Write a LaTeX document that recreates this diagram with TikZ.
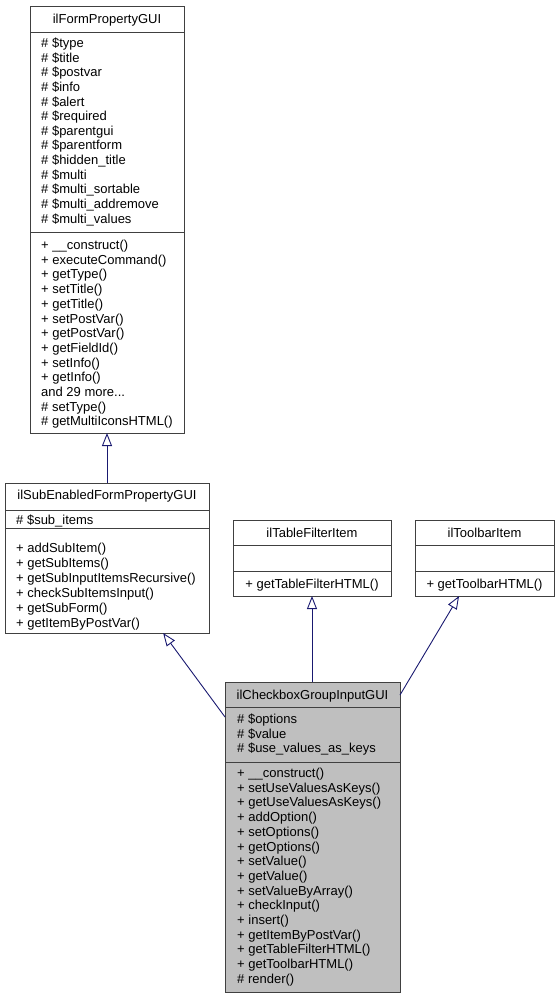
\documentclass[tikz,border=0pt]{standalone}
\usepackage{fontspec}
\setmainfont{Liberation Sans}
\usetikzlibrary{arrows.meta,calc}
\definecolor{boxc}{HTML}{404040}
\definecolor{edgec}{HTML}{191970}
\definecolor{hl}{HTML}{BFBFBF}
\tikzset{
  umlbox/.style={draw=boxc, line width=1pt, fill=white, rectangle, inner sep=0pt, outer sep=0pt, anchor=north west},
  sepline/.style={draw=boxc, line width=1pt},
  txt/.style={inner sep=0pt, font=\fontsize{13}{15}\selectfont, anchor=base west},
  ttl/.style={inner sep=0pt, font=\fontsize{13}{15}\selectfont, anchor=base},
  inherit/.style={draw=edgec, line width=0.9pt, -{Triangle[open, length=13pt, width=10pt]}},
}
\newcommand\threedots{...}
\newcommand\umlbx[6]{\node[umlbox, #6, minimum width={#4-#2}, minimum height={#5-#3}] (#1) at (#2,#3) {};}
\newcommand\umllines[5]{\foreach \t [count=\i] in {#5} {\node[txt] (#1\i) at (#2, {#3+#4*(\i-1)}) {\t};}}
\begin{document}
\begin{tikzpicture}[x=1pt, y=-1pt]
\useasboundingbox (0,0) rectangle (559,999);
% boxes
\umlbx{b1}{30}{6}{184}{433}{}
\umlbx{b2}{5}{483}{209}{633}{}
\umlbx{b3}{233}{520}{391}{596}{}
\umlbx{b4}{415}{520}{554}{596}{}
\umlbx{b5}{225}{682}{400}{992}{fill=hl}
% separators
\draw[sepline] (30,32) -- (184,32);
\draw[sepline] (30,232) -- (184,232);
\draw[sepline] (5,510) -- (209,510);
\draw[sepline] (5,528) -- (209,528);
\draw[sepline] (233,545) -- (391,545);
\draw[sepline] (233,571) -- (391,571);
\draw[sepline] (415,545) -- (554,545);
\draw[sepline] (415,571) -- (554,571);
\draw[sepline] (225,707) -- (400,707);
\draw[sepline] (225,762) -- (400,762);
% titles
\node[ttl] (t1) at (107,23.5) {ilFormPropertyGUI};
\node[ttl] (t2) at (107,499.5) {ilSubEnabledFormPropertyGUI};
\node[ttl] (t3) at (312,537) {ilTableFilterItem};
\node[ttl] (t4) at (484.5,537) {ilToolbarItem};
\node[ttl] (t5) at (312.5,699) {ilCheckboxGroupInputGUI};
% box 1
\umllines{ba}{41}{47.5}{14.63}{\# \$type,\# \$title,\# \$postvar,\# \$info,\# \$alert,\# \$required,\# \$parentgui,\# \$parentform,\# \$hidden\_title,\# \$multi,\# \$multi\_sortable,\# \$multi\_addremove,\# \$multi\_values}
\umllines{bm}{41}{249.5}{14.7}{+ \_\_construct(),+ executeCommand(),+ getType(),+ setTitle(),+ getTitle(),+ setPostVar(),+ getPostVar(),+ getFieldId(),+ setInfo(),+ getInfo(),and 29 more\threedots,\# setType(),\# getMultiIconsHTML()}
% box 2
\node[txt] (c1) at (16,524.5) {\# \$sub\_items};
\umllines{cm}{16}{552.5}{14.9}{+ addSubItem(),+ getSubItems(),+ getSubInputItemsRecursive(),+ checkSubItemsInput(),+ getSubForm(),+ getItemByPostVar()}
% box 3 and 4
\node[ttl] (d1) at (312,588) {+ getTableFilterHTML()};
\node[ttl] (e1) at (484.5,588) {+ getToolbarHTML()};
% box 5
\umllines{fa}{237}{723.5}{14.6}{\# \$options,\# \$value,\# \$use\_values\_as\_keys}
\umllines{fm}{237}{777.5}{14.7}{+ \_\_construct(),+ setUseValuesAsKeys(),+ getUseValuesAsKeys(),+ addOption(),+ setOptions(),+ getOptions(),+ setValue(),+ getValue(),+ setValueByArray(),+ checkInput(),+ insert(),+ getItemByPostVar(),+ getTableFilterHTML(),+ getToolbarHTML(),\# render()}
% edges
\draw[inherit] (b2.north) -- (b1.south);
\draw[inherit] (b3.south |- b5.north) -- (b3.south);
\draw[inherit] ([yshift=-13pt]b5.north east) -- ($(b4.south west)!0.317!(b4.south east)$);
\draw[inherit] ([yshift=-35pt]b5.north west) -- ($(b2.south west)!0.775!(b2.south east)$);
\end{tikzpicture}
\end{document}
